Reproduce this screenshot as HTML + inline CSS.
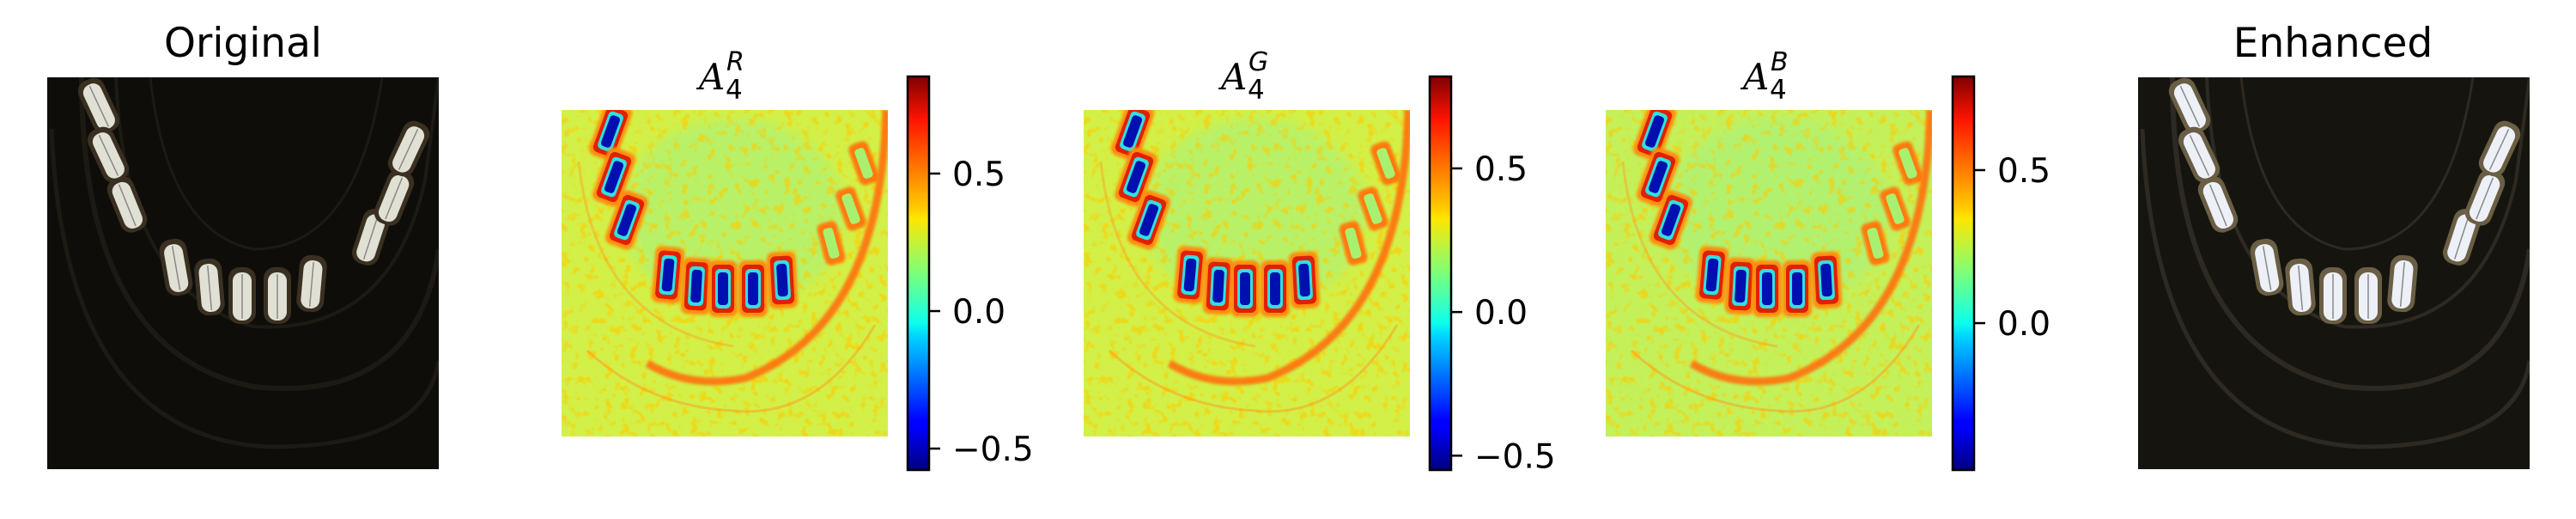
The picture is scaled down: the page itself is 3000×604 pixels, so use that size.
<!DOCTYPE html>
<html><head><meta charset="utf-8"><style>
html,body{margin:0;padding:0;background:#fff;}
body{width:3000px;height:600px;overflow:hidden;font-family:"DejaVu Sans","Liberation Sans",sans-serif;}
</style></head><body>
<svg id="fig" width="3000" height="600" xmlns="http://www.w3.org/2000/svg" font-family="DejaVu Sans, Liberation Sans, sans-serif">
<defs>
<linearGradient id="jet" x1="0" y1="1" x2="0" y2="0">
<stop offset="0" stop-color="#00007f"/><stop offset="0.11" stop-color="#0000ff"/><stop offset="0.125" stop-color="#0000ff"/>
<stop offset="0.34" stop-color="#00d4ff"/><stop offset="0.375" stop-color="#0dffeb"/><stop offset="0.5" stop-color="#7dff7a"/>
<stop offset="0.64" stop-color="#ffe600"/><stop offset="0.66" stop-color="#ffd000"/><stop offset="0.89" stop-color="#ff1400"/><stop offset="1" stop-color="#7f0000"/>
</linearGradient>
<filter id="soft"><feGaussianBlur stdDeviation="6"/></filter>
<filter id="blur2"><feGaussianBlur stdDeviation="1.5"/></filter>
<filter id="noise"><feTurbulence type="fractalNoise" baseFrequency="0.1" numOctaves="2" seed="3"/><feColorMatrix values="0 0 0 0 1  0 0 0 0 0.6  0 0 0 0 0  0 0 0 6 -3.3"/></filter>
</defs>
</svg>
<script>
// colorbar data
const panelNames = ['R','G','B'];
const cbarMax = [0.853, 0.82, 0.806];
const cbarMin = [-0.578, -0.55, -0.48];
const cbarTicks = [[0.5, 0.0, -0.5],[0.5, 0.0, -0.5],[0.5, 0.0]];
const cbarTickLabels = [['0.5','0.0','\u22120.5'],['0.5','0.0','\u22120.5'],['0.5','0.0']];

const NS='http://www.w3.org/2000/svg';
const fig=document.getElementById('fig');
function mk(tag,attrs,parent){const e=document.createElementNS(NS,tag);for(const k in attrs)e.setAttribute(k,attrs[k]);(parent||fig).appendChild(e);return e;}

const photoWin=[[60,33,-25],[71,90,-25],[93,148,-22],[150,221,-10],[189,244,-5],[227,254,0],[268,254,0],[308,240,5],[377,186,18],[404,140,22],[421,83,25]];
const heatWin=[[57,25,20],[61,78,20],[76,128,20],[124,192,5],[157,205,3],[188,208,0],[223,208,0],[257,198,-3]];
const heatSmall=[[314,155,-15],[337,115,-20],[352,62,-20]];

function photo(x0,y0,name,bright){
  const g=mk('g',{transform:`translate(${x0},${y0})`});
  
  
  mk('rect',{x:0,y:0,width:456,height:456,fill:bright?'#15140f':'#0f0d09'},g);
  const clip=mk('clipPath',{id:'c'+name},g);mk('rect',{x:0,y:0,width:456,height:456},clip);
  const inner=mk('g',{'clip-path':`url(#c${name})`},g);
  const arcCol=bright?'#2e2a21':'#1d1a14';
  mk('path',{d:'M40 0 Q40 320 240 360 Q430 380 456 200',fill:'none',stroke:arcCol,'stroke-width':6},inner);
  mk('path',{d:'M5 60 Q20 420 260 430 Q440 430 456 330',fill:'none',stroke:arcCol,'stroke-width':5},inner);
  mk('path',{d:'M80 0 Q90 250 240 290 Q400 300 440 120 L456 0',fill:'none',stroke:arcCol,'stroke-width':4},inner);
  mk('path',{d:'M120 0 Q140 180 240 200 Q360 200 390 0',fill:'none',stroke:arcCol,'stroke-width':3},inner);
  photoWin.forEach(w=>{
    const wg=mk('g',{transform:`translate(${w[0]},${w[1]}) rotate(${w[2]})`},inner);
    mk('rect',{x:-16,y:-33,width:32,height:66,rx:13,fill:bright?'#6a5e44':'#3a3022'},wg);
    mk('rect',{x:-11,y:-27,width:22,height:56,rx:10,fill:bright?'#eef0f8':'#e0e0d4'},wg);
    mk('line',{x1:0,y1:-25,x2:0,y2:27,stroke:'#888','stroke-width':1.5},wg);
  });
}

function heat(i,x0,y0){
  const g=mk('g',{transform:`translate(${x0},${y0})`});
  
  
  const clip=mk('clipPath',{id:'hc'+i},g);mk('rect',{x:0,y:0,width:380,height:380},clip);
  const inner=mk('g',{'clip-path':`url(#hc${i})`},g);
  mk('rect',{x:0,y:0,width:380,height:380,fill:i===2?'#c4f05a':'#d2f048'},inner);
  mk('ellipse',{cx:200,cy:120,rx:130,ry:110,fill:'#a4f282',opacity:0.55,filter:'url(#soft)'},inner);
  mk('rect',{x:0,y:0,width:380,height:380,filter:'url(#noise)',opacity:0.6},inner);
  mk('path',{d:'M378 0 Q372 250 214 312 Q150 325 100 295',fill:'none',stroke:'#ff7010','stroke-width':9,opacity:0.9,filter:'url(#blur2)'},inner);
  mk('path',{d:'M365 250 Q300 360 200 350 Q100 345 30 280',fill:'none',stroke:'#ff9a20','stroke-width':3,opacity:0.5},inner);
  mk('path',{d:'M20 60 Q40 250 200 275',fill:'none',stroke:'#ffa020','stroke-width':3,opacity:0.45},inner);
  heatWin.forEach(w=>{
    const wg=mk('g',{transform:`translate(${w[0]},${w[1]}) rotate(${w[2]})`},inner);
    mk('rect',{x:-17,y:-33,width:34,height:66,rx:8,fill:'#ff8c10',filter:'url(#blur2)'},wg);
    mk('rect',{x:-13,y:-28,width:26,height:56,rx:6,fill:'#e02000'},wg);
    mk('rect',{x:-9,y:-23,width:18,height:46,rx:5,fill:'#30e0e0'},wg);
    mk('rect',{x:-6,y:-19,width:12,height:38,rx:4,fill:'#0010b0'},wg);
  });
  heatSmall.forEach(w=>{
    const wg=mk('g',{transform:`translate(${w[0]},${w[1]}) rotate(${w[2]})`},inner);
    mk('rect',{x:-12,y:-25,width:24,height:50,rx:7,fill:'#ff7a10',filter:'url(#blur2)'},wg);
    mk('rect',{x:-6,y:-18,width:12,height:36,rx:4,fill:'#a8f070'},wg);
  });
}

function cbar(i,x0,y0,h){
  const g=mk('g',{});
  
  
  mk('rect',{x:x0,y:y0,width:25,height:h,fill:'url(#jet)',stroke:'#000','stroke-width':2.5},g);
  const ys=v=>y0+(cbarMax[i]-v)/(cbarMax[i]-cbarMin[i])*h;
  cbarTicks[i].forEach((v,k)=>{
    const y=ys(v);
    const t=mk('line',{x1:x0+25,y1:y,x2:x0+38,y2:y,stroke:'#000','stroke-width':2.5},g);
    
    
    const l=mk('text',{x:x0+52,y:y+14,'font-size':39,fill:'#000'},g);
    
    
    l.textContent=cbarTickLabels[i][k];
  });
}

function title(x,y,txt,name){
  const t=mk('text',{x:x,y:y,'font-size':47,'text-anchor':'middle',fill:'#000'});
  
  
  t.textContent=txt;
}
function htitle(cx,i){
  const t=mk('text',{x:cx-30,y:104,'font-size':42,fill:'#000','font-family':'DejaVu Serif, serif','font-style':'italic'});
  
  
  t.textContent='A';
  const s=mk('text',{x:cx+2,y:82,'font-size':30,'font-style':'italic',fill:'#000'});
  
  
  s.textContent=panelNames[i];
  const b=mk('text',{x:cx+1,y:115,'font-size':31,fill:'#000'});
  
  
  b.textContent='4';
}

title(283,66,'Original','original-title');
photo(55,90,'original-image',false);
const hx=[654,1262,1870], cx=[1057,1665,2274];
for(let i=0;i<3;i++){heat(i,hx[i],128);cbar(i,cx[i],89,458);htitle(hx[i]+190,i);}
title(2717,66,'Enhanced','enhanced-title');
photo(2490,90,'enhanced-image',true);
</script>
</body></html>
